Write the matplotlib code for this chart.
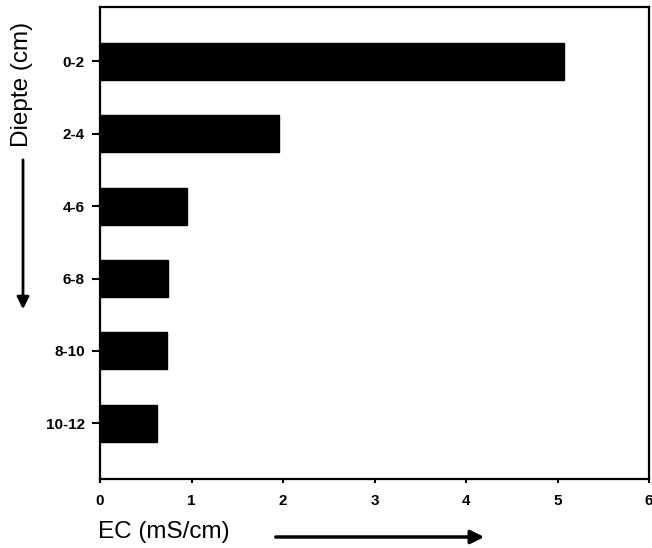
import matplotlib
matplotlib.use('Agg')
import matplotlib.pyplot as plt

# Diepte klassen en EC waarden
diepte = ['0-2', '2-4', '4-6', '6-8', '8-10', '10-12']
ec = [5.07, 1.96, 0.95, 0.74, 0.73, 0.62]
x_ticks = [0, 1, 2, 3, 4, 5, 6]

plt.rcParams['font.family'] = ['Liberation Sans', 'DejaVu Sans']

fig = plt.figure(figsize=(6.52, 5.48), dpi=100)
ax = fig.add_axes([0.1534, 0.1259, 0.842, 0.861])

pos = list(range(len(diepte)))
ax.barh(pos, ec, height=0.51, color='black', edgecolor='black')

ax.set_xlim(0, 6)
ax.set_ylim(5.77, -0.75)
ax.set_xticks(x_ticks)
ax.set_xticklabels([str(t) for t in x_ticks], fontsize=11, fontweight='bold')
ax.set_yticks(pos)
ax.set_yticklabels(diepte, fontsize=11, fontweight='bold')

for s in ax.spines.values():
    s.set_linewidth(1.6)
ax.tick_params(axis='x', direction='out', length=3, width=1.5, pad=8)
ax.tick_params(axis='y', direction='out', length=6, width=1.5, pad=5)

# as-labels met pijlen
fig.text(22, 464, 'Diepte (cm)', transform=None, rotation=90,
         ha='center', va='center', fontsize=17.5)
fig.text(164, 16, 'EC (mS/cm)', transform=None,
         ha='center', va='center', fontsize=17.5)

ax.annotate('', xy=(23, 236), xytext=(23, 391), xycoords='figure pixels',
            textcoords='figure pixels',
            arrowprops=dict(arrowstyle='-|>', lw=2, color='black', mutation_scale=18))
ax.annotate('', xy=(487, 11), xytext=(273, 11), xycoords='figure pixels',
            textcoords='figure pixels',
            arrowprops=dict(arrowstyle='-|>', lw=2.5, color='black', mutation_scale=20))

plt.savefig('out.png', dpi=100, facecolor='white')
